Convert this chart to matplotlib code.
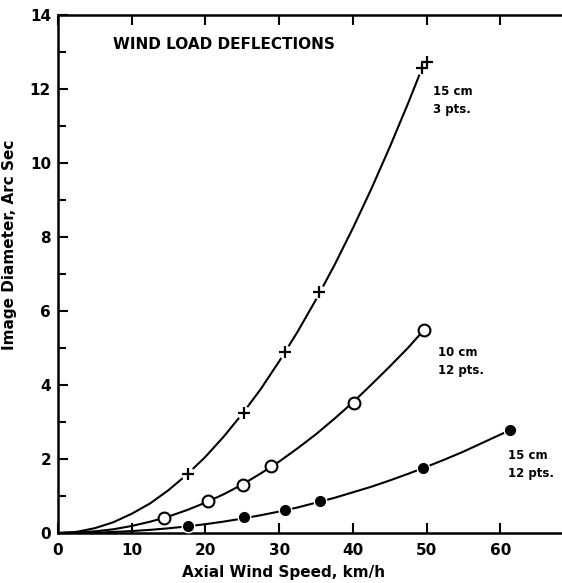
import matplotlib
matplotlib.use('Agg')
import matplotlib.pyplot as plt
from matplotlib.ticker import MultipleLocator

plt.rcParams['font.family'] = ['DejaVu Sans']

plus_x = [17.6, 25.2, 30.8, 35.4, 49.4, 50.1]
plus_y = [1.60, 3.25, 4.88, 6.50, 12.57, 12.74]

open_x = [14.4, 20.4, 25.1, 28.9, 40.2, 49.7]
open_y = [0.41, 0.87, 1.30, 1.82, 3.52, 5.50]

fill_x = [17.6, 25.2, 30.8, 35.5, 49.5, 61.3]
fill_y = [0.18, 0.43, 0.62, 0.87, 1.75, 2.78]

# 平滑曲线 (按原图逐段读取)
curve_plus_x = [0, 2.5, 5, 7.5, 10, 12.5, 15, 17.5, 20, 22.5, 25, 27.5,
                30, 32.5, 35, 37.5, 40, 42.5, 45, 47.5, 49.4]
curve_plus_y = [0, 0.03, 0.13, 0.29, 0.52, 0.80, 1.16, 1.58, 2.06, 2.61,
                3.22, 3.89, 4.64, 5.44, 6.31, 7.24, 8.24, 9.30, 10.43,
                11.62, 12.57]

curve_open_x = [0, 2.5, 5, 7.5, 10, 12.5, 15, 17.5, 20, 22.5, 25, 27.5,
                30, 32.5, 35, 37.5, 40, 42.5, 45, 47.5, 49.7]
curve_open_y = [0, 0.01, 0.045, 0.10, 0.19, 0.305, 0.446, 0.62, 0.82,
                1.05, 1.31, 1.61, 1.93, 2.29, 2.67, 3.09, 3.53, 4.01,
                4.50, 5.01, 5.50]

curve_fill_x = [0, 2.5, 5, 7.5, 10, 12.5, 15, 17.5, 20, 22.5, 25, 27.5,
                30, 32.5, 35, 37.5, 40, 42.5, 45, 47.5, 50, 52.5, 55,
                57.5, 60, 61.3]
curve_fill_y = [0, 0.0025, 0.011, 0.028, 0.052, 0.085, 0.127, 0.178,
                0.238, 0.309, 0.39, 0.48, 0.58, 0.69, 0.82, 0.95, 1.10,
                1.25, 1.42, 1.60, 1.79, 1.99, 2.20, 2.43, 2.66, 2.78]

labels = ['15 cm\n3 pts.', '10 cm\n12 pts.', '15 cm\n12 pts.']
label_pos = [(50.9, 11.7), (51.6, 4.63), (61.1, 1.85)]

LW = 1.5
FS = 11

fig = plt.figure(figsize=(5.62, 5.83), dpi=100)
ax = fig.add_axes([58 / 562, 50 / 583, 505 / 562, 518 / 583])

# 曲线
for cx, cy in [(curve_plus_x, curve_plus_y), (curve_open_x, curve_open_y),
               (curve_fill_x, curve_fill_y)]:
    ax.plot(cx, cy, color='black', linewidth=LW, zorder=2,
            solid_capstyle='round')

# 标记周围留白
for mx, my in [(plus_x, plus_y), (fill_x, fill_y)]:
    ax.plot(mx, my, linestyle='none', marker='o', markersize=10,
            markerfacecolor='white', markeredgecolor='none', zorder=3)

ax.plot(plus_x, plus_y, linestyle='none', marker='+', markersize=8,
        markeredgewidth=1.6, color='black', zorder=4)
ax.plot(open_x, open_y, linestyle='none', marker='o', markersize=8.5,
        markerfacecolor='white', markeredgecolor='black',
        markeredgewidth=1.5, zorder=4)
ax.plot(fill_x, fill_y, linestyle='none', marker='o', markersize=7,
        color='black', zorder=4)

for txt, (tx, ty) in zip(labels, label_pos):
    ax.text(tx, ty, txt, fontsize=8.5, fontweight='bold', ha='left',
            va='center', linespacing=1.5)

ax.text(7.5, 13.2, 'WIND LOAD DEFLECTIONS', fontsize=11, fontweight='bold',
        ha='left', va='center')

ax.set_xlim(0, 68.5)
ax.set_ylim(0, 14)
ax.xaxis.set_major_locator(MultipleLocator(10))
ax.yaxis.set_major_locator(MultipleLocator(2))
ax.yaxis.set_minor_locator(MultipleLocator(1))

ax.spines['right'].set_visible(False)
for s in ['left', 'bottom', 'top']:
    ax.spines[s].set_linewidth(1.8)

ax.tick_params(axis='both', which='both', direction='in', width=1.5,
               labelsize=FS, top=True)
ax.tick_params(axis='both', which='major', length=7)
ax.tick_params(axis='both', which='minor', length=6)
ax.tick_params(axis='x', pad=7)
ax.tick_params(axis='y', pad=5)
for lab in ax.get_xticklabels() + ax.get_yticklabels():
    lab.set_fontweight('bold')

ax.set_xlabel('Axial Wind Speed, km/h', fontsize=FS, fontweight='bold')
ax.set_ylabel('Image Diameter, Arc Sec', fontsize=FS, fontweight='bold')
ax.xaxis.set_label_coords((284 - 58) / 505, -(565 - 533) / 518)
ax.yaxis.set_label_coords(-(58 - 17) / 505, (533 - 245) / 518)

fig.savefig('out.png', dpi=100)
